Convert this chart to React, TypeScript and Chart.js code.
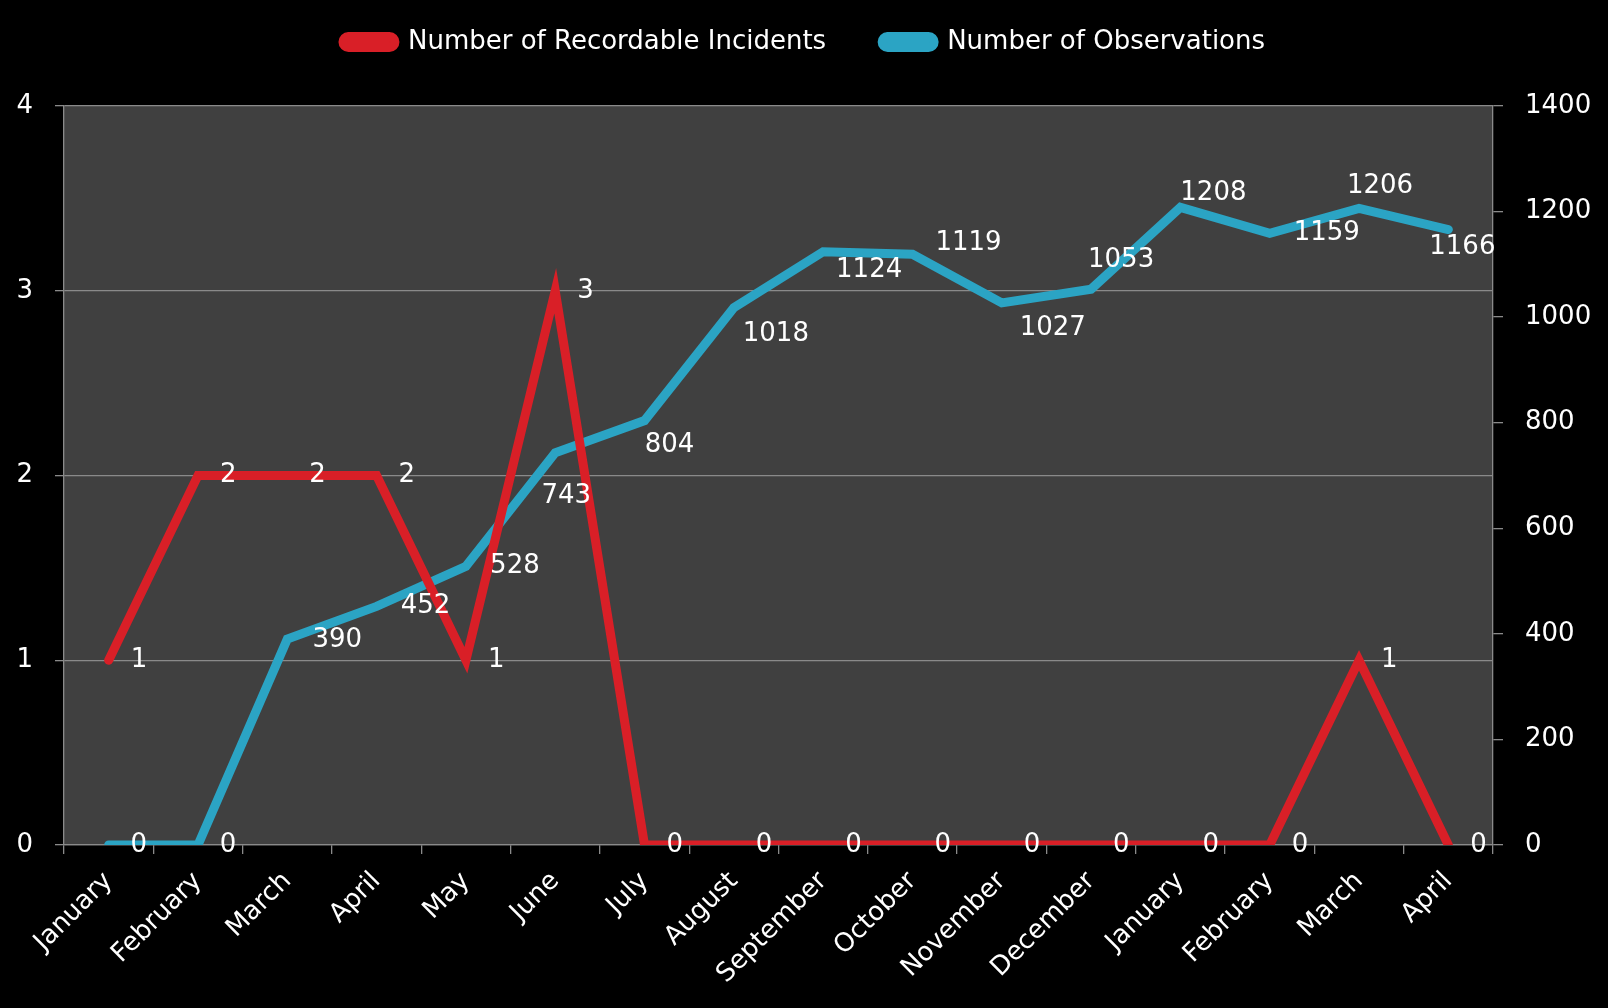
import React, { useEffect, useRef } from "react";
import { Chart, registerables } from "chart.js";

Chart.register(...registerables);

// ---- data ----
const months = [
  "January", "February", "March", "April", "May", "June", "July", "August",
  "September", "October", "November", "December", "January", "February", "March", "April",
];
const incidentsLabel = "Number of Recordable Incidents";
const observationsLabel = "Number of Observations";
const incidents = [1, 2, 2, 2, 1, 3, 0, 0, 0, 0, 0, 0, 0, 0, 1, 0];
const observations = [0, 0, 390, 452, 528, 743, 804, 1018, 1124, 1119, 1027, 1053, 1208, 1159, 1206, 1166];
const leftAxisTicks = [0, 1, 2, 3, 4];
const rightAxisTicks = [0, 200, 400, 600, 800, 1000, 1200, 1400];

// ---- label placement (style, not data) ----
const obsLabelDx = [30, 30, 50, 49, 49, 11, 25, 42, 46, 56, 51, 30, 33, 57, 21, 14];
const obsLabelDy = [0, 0, 1, 0, 0, 43, 25, 27, 19, -11, 25, -29, -14, 0, -22, 18];

const RED = "#d91f27";
const BLUE = "#2ba4c4";
const GRID = "#8a8a8a";
const FONT = "'DejaVu Sans', sans-serif";
const TEXT_SIZE = 26;

const bgPlugin = {
  id: "bgPlugin",
  beforeDraw(chart: any) {
    const { ctx, chartArea } = chart;
    ctx.save();
    ctx.fillStyle = "#000000";
    ctx.fillRect(0, 0, chart.width, chart.height);
    ctx.fillStyle = "#404040";
    ctx.fillRect(chartArea.left, chartArea.top, chartArea.right - chartArea.left, chartArea.bottom - chartArea.top);
    ctx.restore();
  },
};

const legendHeightPlugin = {
  id: "legendHeightPlugin",
  beforeLayout(chart: any) {
    const lg = chart.legend;
    if (lg && !lg.__patched) {
      const orig = lg.fit.bind(lg);
      lg.fit = function () {
        orig();
        this.height = 133;
      };
      lg.__patched = true;
    }
  },
};

const valueLabelPlugin = {
  id: "valueLabelPlugin",
  afterDatasetsDraw(chart: any) {
    const { ctx } = chart;
    ctx.save();
    ctx.font = `${TEXT_SIZE}px ${FONT}`;
    ctx.fillStyle = "#ffffff";
    ctx.textBaseline = "middle";
    chart.data.datasets.forEach((ds: any, di: number) => {
      const meta = chart.getDatasetMeta(di);
      meta.data.forEach((pt: any, i: number) => {
        const v = ds.data[i];
        if (di === 0) {
          ctx.textAlign = "left";
          ctx.fillText(String(v), pt.x + 22, pt.y);
        } else {
          ctx.textAlign = "center";
          ctx.fillText(String(v), pt.x + obsLabelDx[i], pt.y + obsLabelDy[i]);
        }
      });
    });
    ctx.restore();
  },
};

export default function App() {
  const ref = useRef<HTMLCanvasElement | null>(null);

  useEffect(() => {
    if (!ref.current) return;
    Chart.defaults.font.family = FONT;
    const chart = new Chart(ref.current, {
      type: "line",
      data: {
        labels: months,
        datasets: [
          {
            label: incidentsLabel,
            data: incidents,
            borderColor: RED,
            backgroundColor: RED,
            borderWidth: 9,
            pointRadius: 0,
            borderCapStyle: "round",
            borderJoinStyle: "miter",
            tension: 0,
            yAxisID: "y",
          },
          {
            label: observationsLabel,
            data: observations,
            borderColor: BLUE,
            backgroundColor: BLUE,
            borderWidth: 9,
            pointRadius: 0,
            borderCapStyle: "round",
            borderJoinStyle: "miter",
            tension: 0,
            yAxisID: "y1",
          },
        ],
      },
      options: {
        responsive: false,
        animation: false,
        layout: { padding: { top: -27, left: 0, right: 0, bottom: 0 } },
        plugins: {
          legend: {
            position: "top",
            labels: {
              color: "#ffffff",
              font: { size: 26, family: FONT },
              boxWidth: 52,
              boxHeight: 11,
              useBorderRadius: true,
              borderRadius: 5.5,
              padding: 56,
            },
          },
          tooltip: { enabled: false },
        },
        scales: {
          x: {
            type: "category",
            offset: true,
            grid: {
              offset: true,
              drawOnChartArea: false,
              drawTicks: true,
              tickLength: 9,
              color: GRID,
              lineWidth: 1.3,
            },
            border: { display: true, color: GRID, width: 1.3 },
            ticks: {
              color: "#ffffff",
              font: { size: TEXT_SIZE, family: FONT },
              minRotation: 45,
              maxRotation: 45,
              padding: 12,
              autoSkip: false,
            },
            afterFit(scale: any) {
              scale.height = 163;
            },
          },
          y: {
            type: "linear",
            position: "left",
            min: leftAxisTicks[0],
            max: leftAxisTicks[leftAxisTicks.length - 1],
            afterBuildTicks(scale: any) {
              scale.ticks = leftAxisTicks.map((v) => ({ value: v }));
            },
            grid: { color: GRID, lineWidth: 1.3, tickLength: 9, drawTicks: true },
            border: { display: true, color: GRID, width: 1.3 },
            ticks: {
              color: "#ffffff",
              font: { size: TEXT_SIZE, family: FONT },
              padding: 22,
              callback: (v: any) => String(v),
            },
            afterFit(scale: any) {
              scale.width = 64;
            },
          },
          y1: {
            type: "linear",
            position: "right",
            min: rightAxisTicks[0],
            max: rightAxisTicks[rightAxisTicks.length - 1],
            afterBuildTicks(scale: any) {
              scale.ticks = rightAxisTicks.map((v) => ({ value: v }));
            },
            grid: { drawOnChartArea: false, color: GRID, lineWidth: 1.3, tickLength: 10, drawTicks: true },
            border: { display: true, color: GRID, width: 1.3 },
            ticks: {
              color: "#ffffff",
              font: { size: TEXT_SIZE, family: FONT },
              padding: 22,
              callback: (v: any) => String(v),
            },
            afterFit(scale: any) {
              scale.width = 115;
            },
          },
        },
      } as any,
      plugins: [bgPlugin, legendHeightPlugin, valueLabelPlugin],
    });
    return () => chart.destroy();
  }, []);

  return (
    <div style={{ position: "absolute", left: 0, top: 0, width: 1608, height: 1008, background: "#000" }}>
      <canvas ref={ref} width={1608} height={1008} style={{ display: "block", width: 1608, height: 1008 }} />
    </div>
  );
}
